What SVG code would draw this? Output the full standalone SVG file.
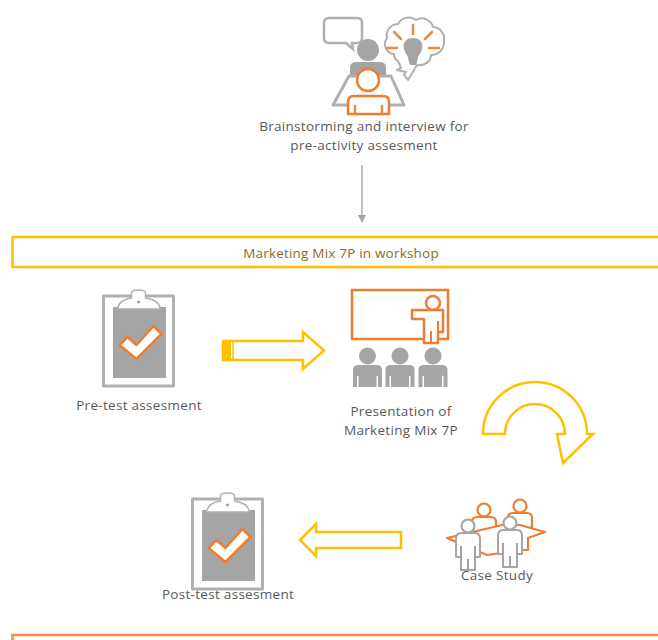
<svg xmlns="http://www.w3.org/2000/svg" width="658" height="640" viewBox="0 0 658 640">
<style>
text{font-family:"Open Sans","Noto Sans","Liberation Sans",sans-serif;font-size:13.5px;letter-spacing:.3px;fill:#595959;text-anchor:middle}
.g{fill:#a5a5a5;stroke:none}
.gl{fill:#fff;stroke:#b0b0b0;stroke-width:3;stroke-linejoin:round}
.o{fill:#fff;stroke:#ed7d31;stroke-width:2.5;stroke-linejoin:round}
.on{fill:none;stroke:#f0883f;stroke-width:2.5;stroke-linecap:round}
.y{fill:#fff;stroke:#ffc000;stroke-width:2.5;stroke-linejoin:miter}
</style>
<defs>
<marker id="ah" markerWidth="10" markerHeight="10" refX="7" refY="4" orient="auto" markerUnits="userSpaceOnUse"><path d="M0 0L8 4L0 8Z" fill="#a5a5a5"/></marker>
<g id="clip">
<rect x="0" y="0" width="70" height="90" class="gl"/>
<rect x="9.500" y="11" width="53" height="71" class="g"/>
<path d="M14 13C15 6 21 3 28 2V-3C28-5 30-6 35-6C40-6 42-5 42-3V2C49 3 56 6 57 13Z" fill="#fff" stroke="#b0b0b0" stroke-width="1.500"/>
<circle cx="35" cy="6" r="1.600" fill="#a5a5a5"/>
<path d="M16 49L24 41L33 49L50 30L58 38L33 63Z" fill="#fff" stroke="#ed7d31" stroke-width="2.500" stroke-linejoin="round"/>
</g>
<g id="pg">
<circle cx="0" cy="0" r="8.500" class="g"/>
<path d="M-14.500 31V14C-14.500 10-12 9-8 9H8C12 9 14.500 10 14.500 14V31H10.500V20H9V31H-9V20H-10.500V31Z" class="g"/>
</g>
<g id="po">
<circle cx="0" cy="0" r="6.500" fill="#fff" stroke="#ed7d31" stroke-width="2.200"/>
<path d="M-12 22V12C-12 9-10 7-7 7H7C10 7 12 9 12 12V22" fill="#fff" stroke="#ed7d31" stroke-width="2.200"/>
</g>
<g id="pw">
<circle cx="0" cy="0" r="6.500" fill="#fff" stroke="#a5a5a5" stroke-width="2.200"/>
<path d="M-12 31V13C-12 9-10 7-7 7H7C10 7 12 9 12 13V31H7V44H-7V31ZM-7 31V20M7 31V20M0 44V33" fill="#fff" stroke="#a5a5a5" stroke-width="2" stroke-linejoin="round"/>
</g>
</defs>
<rect width="658" height="640" fill="#fff"/>

<g id="connectors">
<line x1="362" y1="165" x2="362" y2="222" stroke="#a5a5a5" stroke-width="1.400" marker-end="url(#ah)"/>
<path class="y" d="M223 341H303V332L324 350.500L303 369V360H223Z"/>
<path d="M223 341H231V360H223Z" fill="#ffc000"/>
<path d="M233 341V360" stroke="#ffc000" stroke-width="1.500"/>
<path class="y" d="M483 434A52 52 0 0 1 587 434H593L563 463L557 434H565A30 30 0 0 0 505 434Z"/>
<path class="y" d="M401 532V548H316V556L300 540L316 524V532Z"/>
</g>

<g id="node-brainstorm">
<path d="M329 18H357Q362 18 362 23V38Q362 43 357 43H352L353 49L346 43H329Q324 43 324 38V23Q324 18 329 18Z" fill="#fff" stroke="#b0b0b0" stroke-width="2.500"/>
<path class="gl" d="M349 76H391L404 105H333Z"/>
<circle cx="368" cy="50" r="11" class="g"/>
<path class="g" d="M350 75V68Q350 62 356 62H380Q386 62 386 68V75Z"/>
<circle cx="368" cy="80" r="11" class="o"/>
<path class="o" d="M348 114V102Q348 96 354 96H383Q389 96 389 102V114Z"/>
<path class="on" d="M355 106V114M382 106V114"/>
<path d="M398 61L401 68L397 70L406 72L404 75L408 80L417 65C425 66 431 61 431 55C440 55 445 47 444 40C445 33 439 27 433 27C431 20 423 16 416 20C410 15 401 18 398 24C391 24 385 31 387 38C382 45 387 54 394 54C394 58 396 60 398 61Z" fill="#fff" stroke="#b0b0b0" stroke-width="2" stroke-linejoin="round"/>
<path class="g" d="M404 49C402 41 408 38 413 38C418 38 424 41 422 49C421 54 418 55 418 58L416 65H410L408 58C408 55 405 54 404 49Z"/>
<path class="on" d="M413 25V34M394 32L401 39M432 32L425 39M387 48H397M429 48H439"/>
<text x="364" y="131">Brainstorming and interview for</text>
<text x="364" y="150">pre-activity assesment</text>
</g>

<g id="node-workshop">
<rect x="12.500" y="237" width="700" height="30" fill="#fff" stroke="#ffc000" stroke-width="2.500"/>
<text x="341" y="258" style="fill:#8a6d1e;letter-spacing:.2px">Marketing Mix 7P in workshop</text>
</g>

<g id="node-pretest">
<use href="#clip" x="103.500" y="296"/>
<text x="139" y="410">Pre-test assesment</text>
</g>

<g id="node-presentation">
<rect x="352" y="290" width="96" height="49" fill="#fff" stroke="#ed7d31" stroke-width="2.500"/>
<circle cx="433" cy="303" r="7" fill="#fff" stroke="#ed7d31" stroke-width="2.500"/>
<path d="M412 310H443V332H438V343H424V319H412Z" fill="#fff" stroke="#ed7d31" stroke-width="2.500" stroke-linejoin="round"/>
<path d="M431 343V331M438 332V321" stroke="#ed7d31" stroke-width="2"/>
<use href="#pg" x="367.500" y="356"/>
<use href="#pg" x="400" y="356"/>
<use href="#pg" x="433" y="356"/>
<text x="401" y="416">Presentation of</text>
<text x="401" y="435">Marketing Mix 7P</text>
</g>

<g id="node-case">
<use href="#po" x="484" y="510"/>
<use href="#po" x="520" y="506"/>
<path d="M447 538L502 525L520 525L545 532L528 538V550H522L487 555L480 552Z" fill="#fff" stroke="#ed7d31" stroke-width="2.200" stroke-linejoin="round"/>
<use href="#pw" x="468" y="526"/>
<use href="#pw" x="510" y="523"/>
<text x="497" y="580">Case Study</text>
</g>

<g id="node-posttest">
<use href="#clip" x="192.500" y="499"/>
<text x="228" y="599">Post-test assesment</text>
</g>

<g id="node-bottom">
<rect x="12.500" y="635" width="700" height="30" fill="#fff" stroke="#ed7d31" stroke-width="2.500" opacity=".85"/>
</g>
</svg>
